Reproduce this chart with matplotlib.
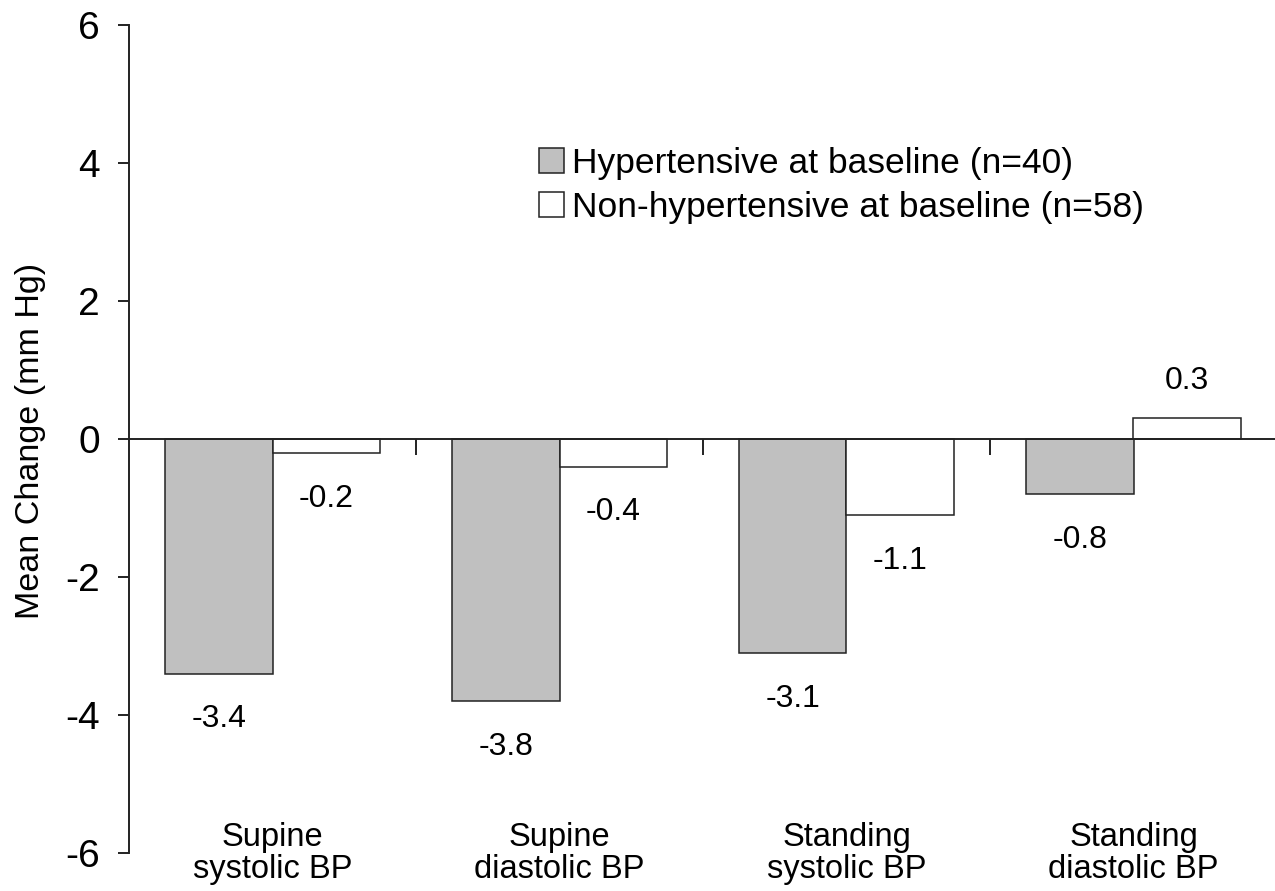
import matplotlib
matplotlib.use('Agg')
import matplotlib.pyplot as plt
import matplotlib.transforms as mtransforms
import numpy as np
from matplotlib.patches import Patch

categories = ['Supine\nsystolic BP', 'Supine\ndiastolic BP',
              'Standing\nsystolic BP', 'Standing\ndiastolic BP']
hypertensive = [-3.4, -3.8, -3.1, -0.8]
non_hypertensive = [-0.2, -0.4, -1.1, 0.3]
series_labels = ['Hypertensive at baseline (n=40)',
                 'Non-hypertensive at baseline (n=58)']
yticks = [-6, -4, -2, 0, 2, 4, 6]
ylabel = 'Mean Change (mm Hg)'

plt.rcParams['font.family'] = ['Liberation Sans', 'DejaVu Sans']

fig = plt.figure(figsize=(12.75, 8.91), dpi=100)
ax = fig.add_axes([129 / 1275, 38 / 891, 1148 / 1275, 828 / 891])

x = np.arange(len(categories))
w = 0.375
edge = '#222222'
gray = '#c0c0c0'
ax.bar(x - w / 2, hypertensive, w, color=gray, edgecolor=edge, linewidth=1.1, zorder=2)
ax.bar(x + w / 2, non_hypertensive, w, color='white', edgecolor=edge, linewidth=1.1, zorder=2)

# value labels
for xs, vals in ((x - w / 2, hypertensive), (x + w / 2, non_hypertensive)):
    for xi, v in zip(xs, vals):
        off = -33 if v < 0 else 27
        ax.annotate(f'{v:.1f}', (xi, v), xytext=(0, off), textcoords='offset points',
                    ha='center', va='center', fontsize=23)

ax.set_xlim(-0.5, 3.5)
ax.set_ylim(-6, 6)
ax.spines['top'].set_visible(False)
ax.spines['right'].set_visible(False)
ax.spines['bottom'].set_position(('data', 0))
for s in ('left', 'bottom'):
    ax.spines[s].set_linewidth(1.4)
    ax.spines[s].set_color('#222222')
    ax.spines[s].set_zorder(3)

ax.set_yticks(yticks)
ax.set_yticklabels([str(t) for t in yticks])
ax.tick_params(axis='y', direction='out', length=8, width=1.4, pad=13,
               labelsize=28, color='#222222')
ax.set_xticks([0.5, 1.5, 2.5])
ax.set_xticklabels([])
ax.tick_params(axis='x', direction='out', length=11.5, width=1.4, color='#222222')

trans = mtransforms.blended_transform_factory(ax.transData, ax.transAxes)
for xi, c in zip(x, categories):
    ax.text(xi, 0.037, c, transform=trans, ha='center', va='top',
            fontsize=23.5, linespacing=1.02)

fig.text(31 / 1275, 0.5 + (891 / 2 - 441) / 891, ylabel, rotation=90,
         ha='center', va='center', fontsize=24.5)

handles = [Patch(facecolor=gray, edgecolor=edge, linewidth=1.1),
           Patch(facecolor='white', edgecolor=edge, linewidth=1.1)]
ax.legend(handles, series_labels, loc='upper left', bbox_to_anchor=(0.357, 0.853),
          frameon=False, fontsize=25.5, handlelength=0.72, handleheight=0.72,
          handletextpad=0.22, labelspacing=0.32, borderaxespad=0, borderpad=0)

fig.savefig('out.png', dpi=100)
